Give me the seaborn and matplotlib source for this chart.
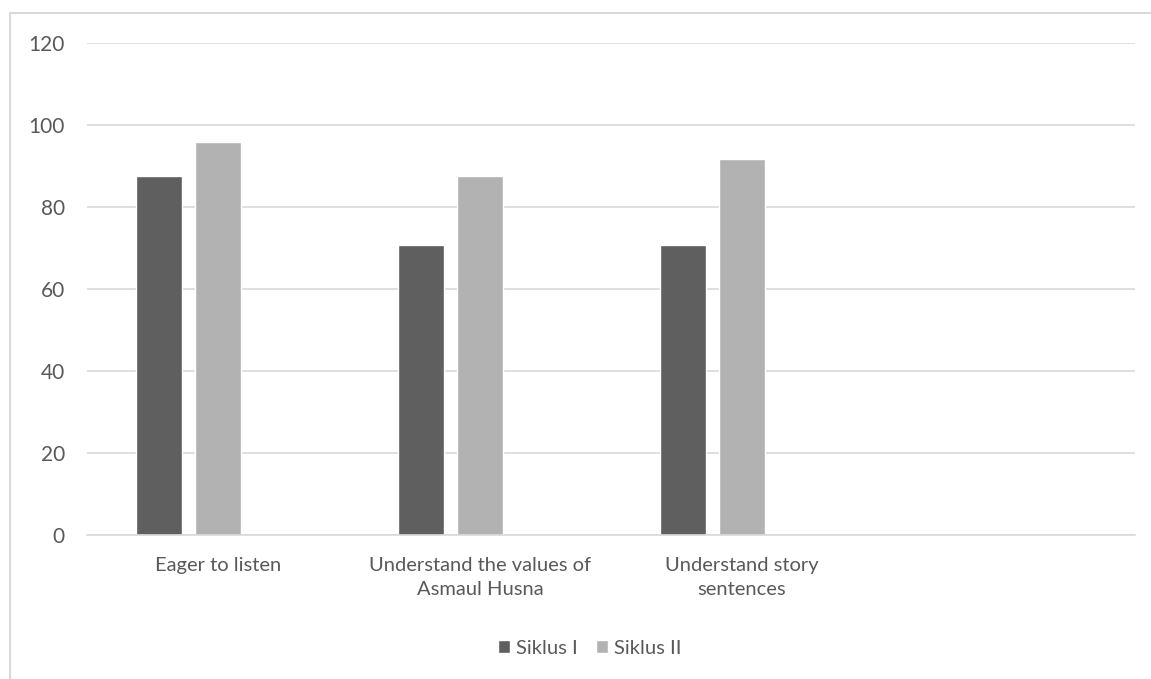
import matplotlib
matplotlib.use("Agg")
import matplotlib.pyplot as plt
import seaborn as sns
import pandas as pd
import numpy as np
from matplotlib.patches import Rectangle, Patch

categories = ["Eager to listen", "Understand the values of\nAsmaul Husna",
              "Understand story\nsentences", ""]
siklus1 = [87.5, 70.8, 70.8, np.nan]
siklus2 = [95.8, 87.5, 91.7, np.nan]
series = ["Siklus I", "Siklus II", "_empty"]
colors = ["#5f5f5f", "#b2b2b2", "#ffffff"]
yticks = [0, 20, 40, 60, 80, 100, 120]

rows = []
for c, a, b in zip(categories, siklus1, siklus2):
    rows.append({"cat": c, "series": "Siklus I", "val": a})
    rows.append({"cat": c, "series": "Siklus II", "val": b})
    rows.append({"cat": c, "series": "_empty", "val": np.nan})
df = pd.DataFrame(rows)

sns.set_theme(style="white")
plt.rcParams["font.family"] = ["Lato", "DejaVu Sans"]

fig = plt.figure(figsize=(11.51, 6.79), dpi=100)
ax = fig.add_axes([87/1151, 1-535/679, (1135-87)/1151, (535-43)/679])

sns.barplot(data=df, x="cat", y="val", hue="series", order=categories,
            hue_order=series, palette=colors, width=0.675, gap=0.22,
            errorbar=None, legend=False, ax=ax, saturation=1)

ax.set_xlim(-0.5, 3.5)
ax.set_ylim(0, 120)
ax.set_yticks(yticks)
ax.yaxis.grid(True, color="#d9d9d9", linewidth=1.2)
ax.set_axisbelow(True)
for s in ["top", "right", "left"]:
    ax.spines[s].set_visible(False)
ax.spines["bottom"].set_color("#d9d9d9")
ax.spines["bottom"].set_linewidth(1.2)
ax.set_xlabel("")
ax.set_ylabel("")
ax.tick_params(axis="y", length=0, pad=16, labelsize=15, labelcolor="#595959")
ax.tick_params(axis="x", which="major", length=0, pad=16, labelsize=14.5, labelcolor="#595959")
ax.set_xticks(range(len(categories)))
ax.set_xticklabels(categories, linespacing=1.5)
ax.set_xticks(np.arange(-0.5, 4.0, 1.0), minor=True)
ax.tick_params(axis="x", which="minor", length=8, width=1.2, color="#d9d9d9", direction="out")

handles = [Patch(facecolor=colors[0], label=series[0]),
           Patch(facecolor=colors[1], label=series[1])]
fig.legend(handles=handles, loc="center", bbox_to_anchor=(590/1151, 1-648/679),
           ncol=2, frameon=False, fontsize=14.5, handlelength=0.6, handleheight=0.6,
           handletextpad=0.3, columnspacing=0.9, labelcolor="#595959")

fig.patches.append(Rectangle((10/1151, -0.1), 1.2, 1-13/679+0.1, transform=fig.transFigure,
                             fill=False, edgecolor="#d9d9d9", linewidth=1.5))

fig.savefig("out.png", dpi=100, facecolor="white")
